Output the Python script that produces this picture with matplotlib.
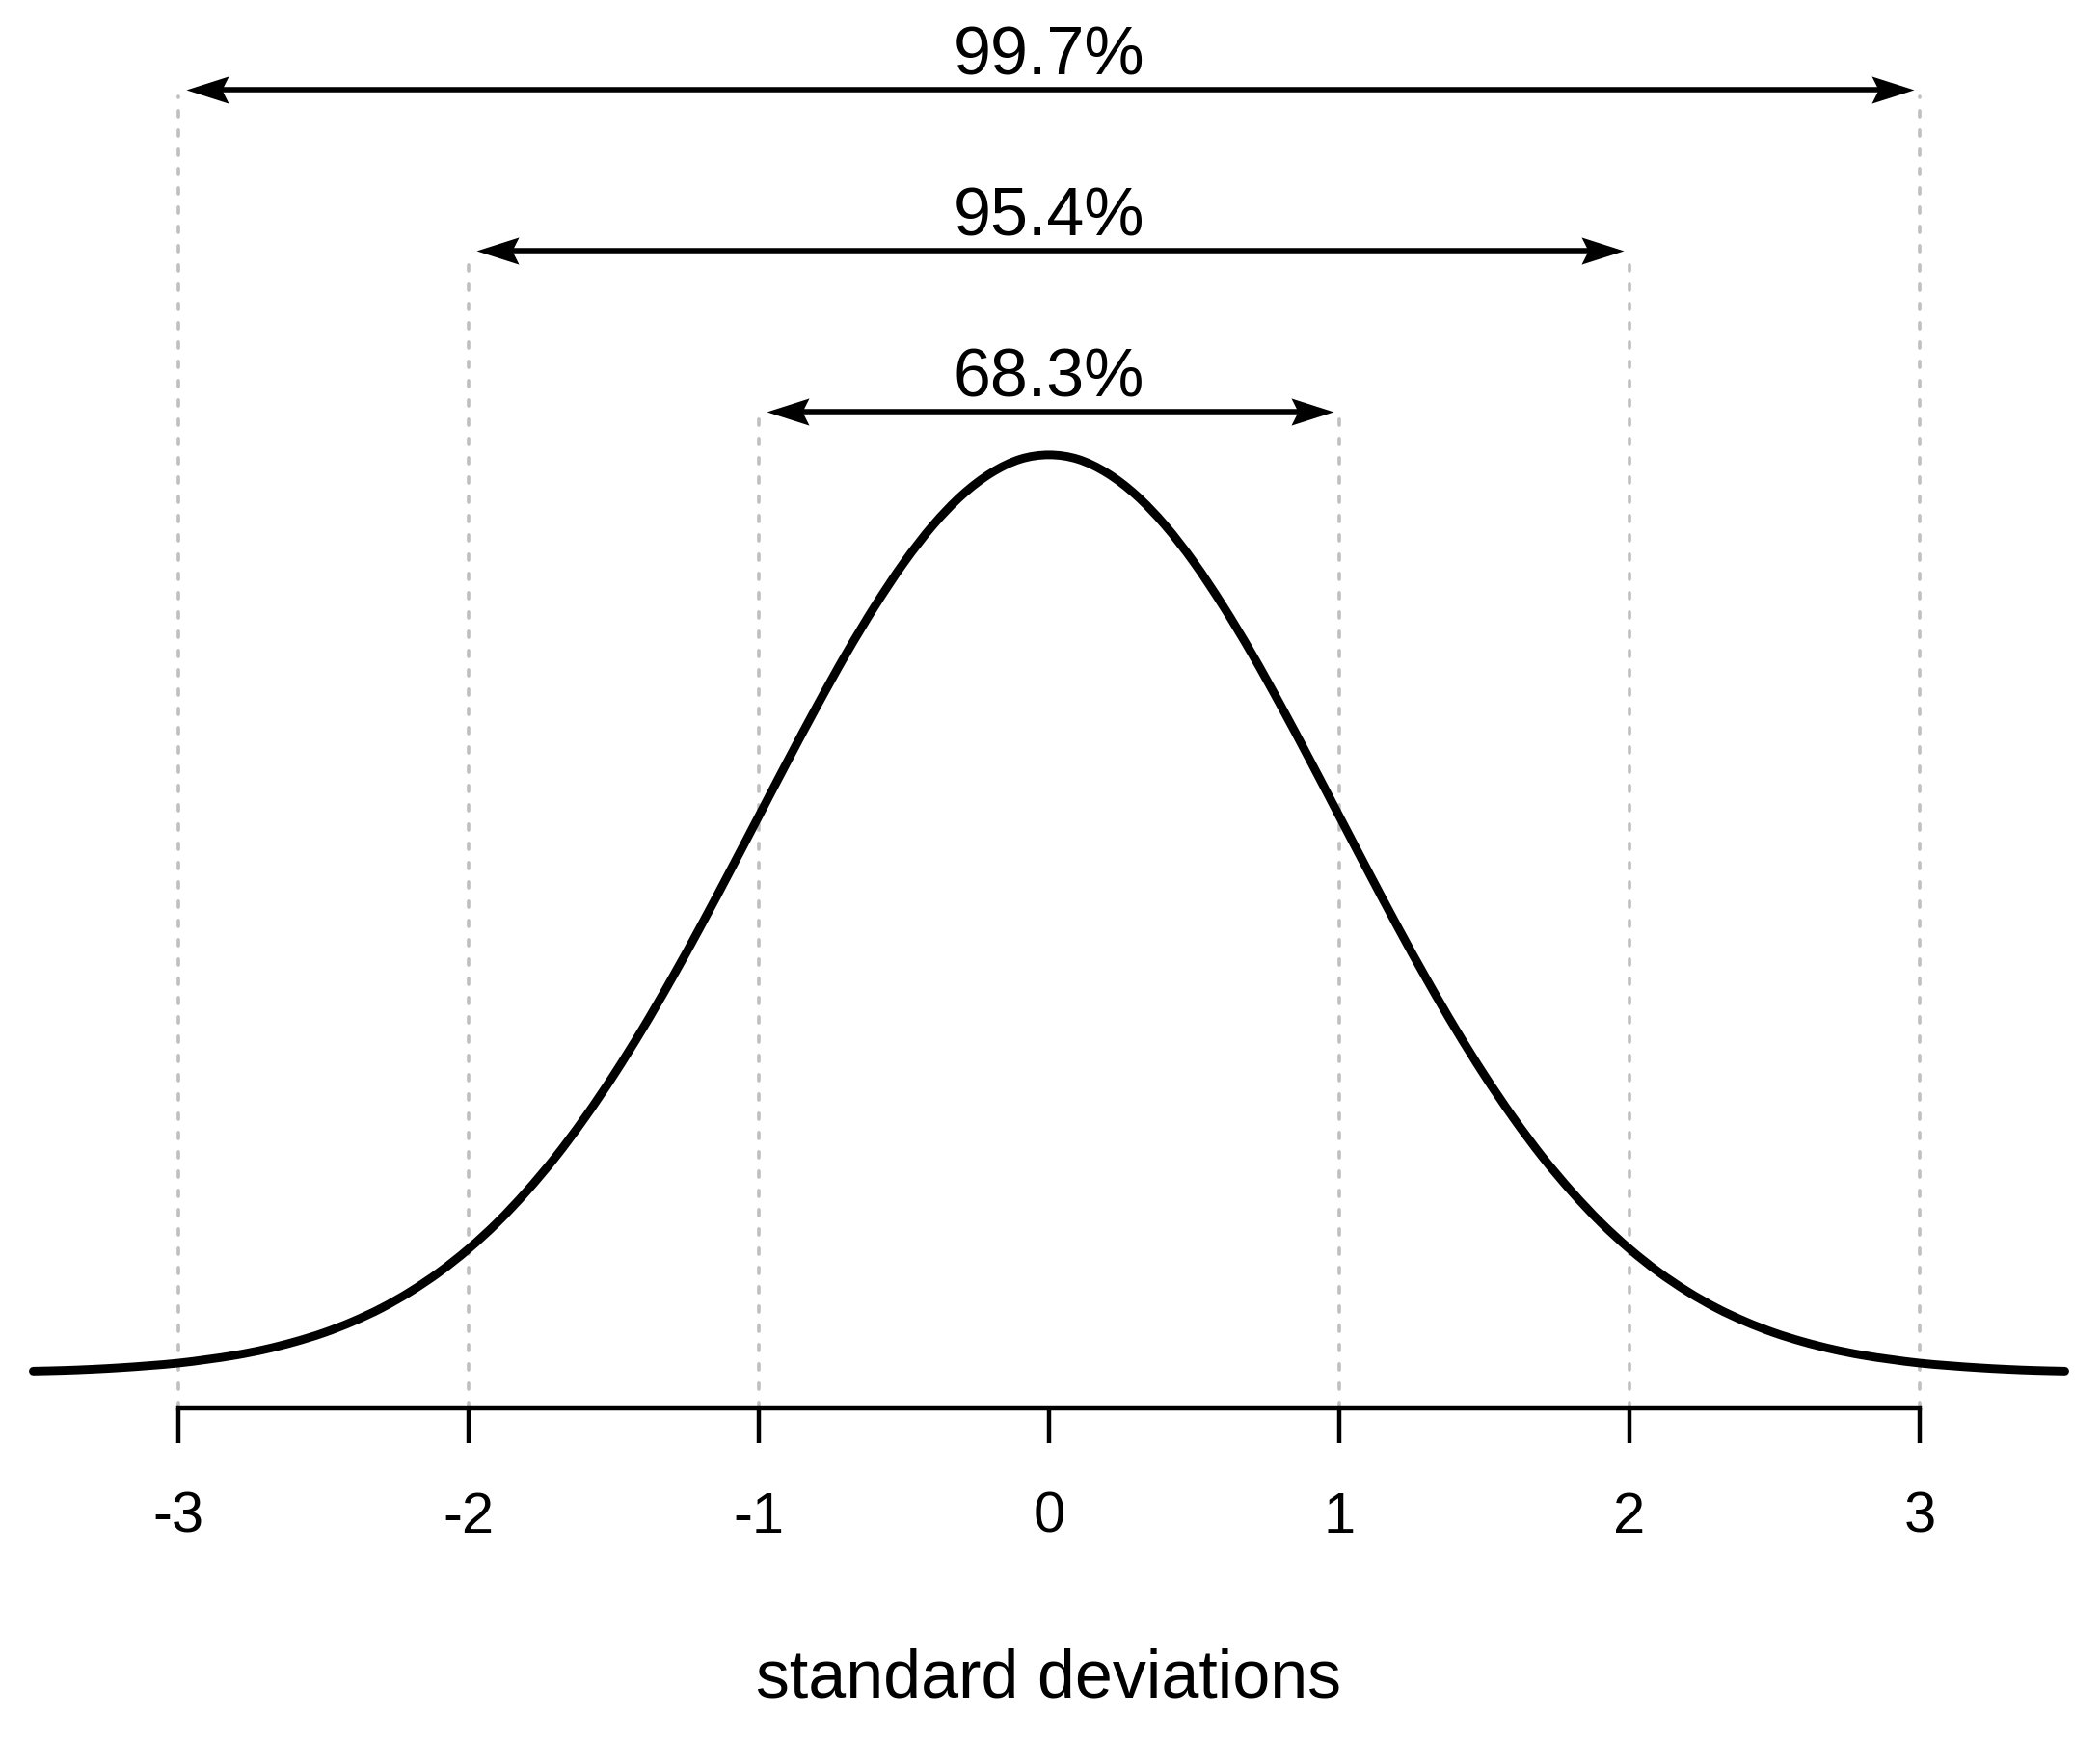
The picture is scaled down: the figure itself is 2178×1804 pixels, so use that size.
import numpy as np
import matplotlib
matplotlib.use('Agg')
import matplotlib.pyplot as plt
from matplotlib.path import Path
from matplotlib.patches import PathPatch

plt.rcParams['font.family'] = ['Liberation Sans', 'DejaVu Sans']
plt.rcParams['lines.scale_dashes'] = False

# standard normal density, every 0.1 sd
sd_grid = np.linspace(-3.5, 3.5, 71)
density = [0.0009, 0.0012, 0.0017, 0.0024, 0.0033, 0.0044, 0.0060, 0.0079, 0.0104, 0.0136,
           0.0175, 0.0224, 0.0283, 0.0355, 0.0440, 0.0540, 0.0656, 0.0790, 0.0940, 0.1109,
           0.1295, 0.1497, 0.1714, 0.1942, 0.2179, 0.2420, 0.2661, 0.2897, 0.3123, 0.3332,
           0.3521, 0.3683, 0.3814, 0.3910, 0.3970, 0.3989, 0.3970, 0.3910, 0.3814, 0.3683,
           0.3521, 0.3332, 0.3123, 0.2897, 0.2661, 0.2420, 0.2179, 0.1942, 0.1714, 0.1497,
           0.1295, 0.1109, 0.0940, 0.0790, 0.0656, 0.0540, 0.0440, 0.0355, 0.0283, 0.0224,
           0.0175, 0.0136, 0.0104, 0.0079, 0.0060, 0.0044, 0.0033, 0.0024, 0.0017, 0.0012,
           0.0009]

spans = [1, 2, 3]
coverage = ['68.3%', '95.4%', '99.7%']
tick_values = [-3, -2, -1, 0, 1, 2, 3]
tick_labels = ['-3', '-2', '-1', '0', '1', '2', '3']
xlabel = 'standard deviations'

# layout (data units)
arrow_y = [0.4176, 0.4875, 0.5575]
axis_y = -0.0152
head_len = 0.146


def smooth_path(x, y):
    # cubic bezier (catmull-rom) through the read points
    pts = np.column_stack([x, y])
    tan = np.empty_like(pts)
    tan[1:-1] = (pts[2:] - pts[:-2]) / 2
    tan[0] = pts[1] - pts[0]
    tan[-1] = pts[-1] - pts[-2]
    verts = [pts[0]]
    codes = [Path.MOVETO]
    for i in range(len(pts) - 1):
        verts += [pts[i] + tan[i] / 3, pts[i + 1] - tan[i + 1] / 3, pts[i + 1]]
        codes += [Path.CURVE4] * 3
    return Path(verts, codes)


fig = plt.figure(figsize=(10.89, 9.02), dpi=200)
ax = fig.add_axes([0, 0, 1, 1])
ax.set_xlim(-3.6146, 3.6213)
ax.set_ylim(-0.1589, 0.5965)

# arrow heads (stealth-like), tip at origin
right_head = Path([(0, 0), (-1, 0.32), (-0.84, 0), (-1, -0.32), (0, 0)],
                  [Path.MOVETO, Path.LINETO, Path.LINETO, Path.LINETO, Path.CLOSEPOLY])
left_head = Path([(0, 0), (1, 0.32), (0.84, 0), (1, -0.32), (0, 0)],
                 [Path.MOVETO, Path.LINETO, Path.LINETO, Path.LINETO, Path.CLOSEPOLY])

for k, lab, y in zip(spans, coverage, arrow_y):
    # dashed guides
    for s in (-k, k):
        ax.plot([s, s], [axis_y, y - 0.003], color='#bfbfbf', lw=1.3,
                dashes=(2.2, 5.0), dash_capstyle='round', zorder=1)
    x0, x1 = -k + 0.025, k - 0.02
    ax.plot([x0 + head_len / 2, x1 - head_len / 2], [y, y], color='black', lw=2.0,
            solid_capstyle='butt', zorder=2)
    ax.plot([x0], [y], marker=left_head, ms=31.7, color='black', mew=0, zorder=2)
    ax.plot([x1], [y], marker=right_head, ms=31.7, color='black', mew=0, zorder=2)
    ax.text(0, y + 0.0065, lab, ha='center', va='baseline', fontsize=25.2)

curve = PathPatch(smooth_path(sd_grid, density), facecolor='none', edgecolor='black',
                  lw=3.2, capstyle='round', joinstyle='round', zorder=3)
ax.add_patch(curve)

for side in ['left', 'right', 'top']:
    ax.spines[side].set_visible(False)
ax.spines['bottom'].set_position(('data', axis_y))
ax.spines['bottom'].set_bounds(-3, 3)
ax.spines['bottom'].set_linewidth(1.6)
ax.set_xticks(tick_values)
ax.set_xticklabels(tick_labels)
ax.tick_params(axis='x', length=13, width=1.6, pad=18, labelsize=21.5)
ax.set_yticks([])

ax.text(0, -0.1405, xlabel, ha='center', va='baseline', fontsize=25.2)

fig.savefig('out.png', dpi=200)
